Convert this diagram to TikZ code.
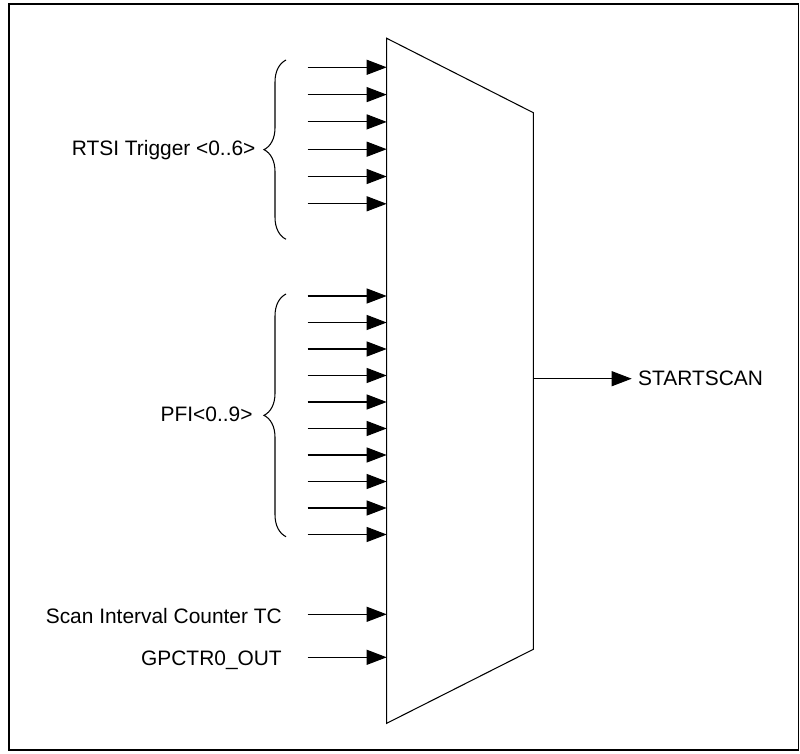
\documentclass[tikz,border=0pt]{standalone}
\usepackage{fontspec}
\setmainfont{Liberation Sans}
\usetikzlibrary{arrows.meta,decorations.pathreplacing}

\tikzset{
  sig/.style={draw,-{Triangle[length=0.4cm,width=0.3cm]}},
  bracefig/.style={decorate,decoration={brace,amplitude=0.44cm}},
}

\begin{document}
\begin{tikzpicture}[line width=0.6pt]

        \useasboundingbox (0,0) rectangle (16,-15.08);
        \draw[line width=1.1pt] (0.176,-0.084) rectangle (15.97,-15.0);

        % multiplexer outline
        \coordinate (tl) at (7.734,-0.766);
        \coordinate (tr) at (10.666,-2.254);
        \coordinate (br) at (10.666,-12.986);
        \coordinate (bl) at (7.734,-14.466);
        \draw (tl) -- (tr) -- (br) -- (bl) -- cycle;

        % input and output points
        \foreach \i in {0,...,5}
          \coordinate (r\i) at (6.154,-1.346-0.546*\i);
        \foreach \i in {0,...,9}
          \coordinate (p\i) at (6.154,-5.92-0.53*\i);
        \coordinate (sc) at (6.154,-12.286);
        \coordinate (gp) at (6.154,-13.146);
        \coordinate (ss) at (10.666,-7.574);
        \coordinate (sse) at (12.634,-7.574);

        % braces
        \coordinate (rb0) at (5.72,-4.786);
        \coordinate (rb1) at (5.72,-1.2);
        \coordinate (pb0) at (5.72,-10.734);
        \coordinate (pb1) at (5.72,-5.88);
        \draw[bracefig] (rb0) -- (rb1);
        \draw[bracefig] (pb0) -- (pb1);

        \begin{scope}[every node/.style={font=\fontsize{11.9}{14}\selectfont, inner sep=0pt, transform shape}]
          \node[anchor=base east] (rtsi) at (5.12,-3.114) {RTSI Trigger <0..6>};
          \node[anchor=base east] (pfi)  at (5.06,-8.434) {PFI<0..9>};
          \node[anchor=base east] (scan) at (5.646,-12.466) {Scan Interval Counter TC};
          \node[anchor=base east] (gpc)  at (5.646,-13.314) {GPCTR0\_OUT};
          \node[anchor=west] (start) at (12.754,-7.574) {STARTSCAN};
        \end{scope}

        \begin{scope}[every edge/.style={sig}]
          \foreach \i in {0,...,5}
            \path (r\i) edge (r\i -| tl);
          \foreach \i in {0,...,9}
            \path (p\i) edge (p\i -| tl);
          \path (sc) edge (sc -| tl);
          \path (gp) edge (gp -| tl);
          \path (ss) edge (sse);
        \end{scope}

      \end{tikzpicture}
\end{document}
